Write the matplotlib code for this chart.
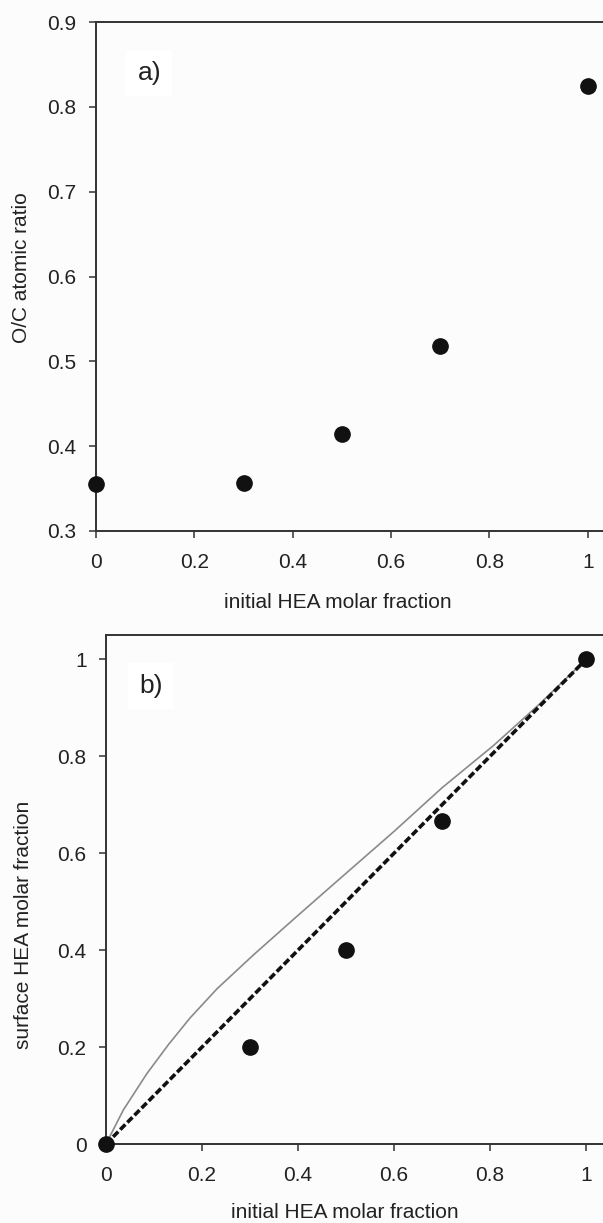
import numpy as np
import matplotlib
matplotlib.use("Agg")
import matplotlib.pyplot as plt

plt.rcParams['font.family'] = ['Liberation Sans', 'DejaVu Sans']

# panel a) O/C ratio vs initial HEA fraction
hea_init = [0, 0.3, 0.5, 0.7, 1.0]
oc_ratio = [0.355, 0.357, 0.414, 0.518, 0.825]

# panel b) surface vs initial HEA fraction
surf_hea = [0, 0.2, 0.4, 0.667, 1.0]
ideal_x = [0, 1]
ideal_y = [0, 1]
curve_x = [0, 0.036, 0.085, 0.13, 0.175, 0.231, 0.307, 0.39, 0.467, 0.6, 0.7, 0.807, 0.9, 1.0]
curve_y = [0, 0.07, 0.145, 0.205, 0.26, 0.32, 0.39, 0.463, 0.53, 0.645, 0.735, 0.822, 0.905, 1.0]

W, H = 603, 1223
fig = plt.figure(figsize=(W / 100, H / 100), dpi=100)
fig.patch.set_facecolor('#fcfcfc')

txt = '#222222'
spc = '#333333'

def box(l, t, r, b):
    return [l / W, 1 - b / H, (r - l) / W, (b - t) / H]

def style(ax):
    ax.set_facecolor('#fcfcfc')
    ax.spines['right'].set_visible(False)
    for s in ['left', 'bottom', 'top']:
        ax.spines[s].set_color(spc)
        ax.spines[s].set_linewidth(1.4)
    ax.tick_params(direction='out', length=5, width=1.1, color=spc,
                   labelsize=15, labelcolor=txt)
    ax.tick_params(axis='x', pad=11)
    ax.tick_params(axis='y', pad=9)

ax1 = fig.add_axes(box(96, 22, 603, 531))
style(ax1)
ax1.plot(hea_init, oc_ratio, 'o', color='#111111', ms=11, clip_on=False, zorder=5)
ax1.set_xlim(0, 1.031)
ax1.set_ylim(0.3, 0.9)
ax1.set_xticks([0, 0.2, 0.4, 0.6, 0.8, 1])
ax1.set_xticklabels(['0', '0.2', '0.4', '0.6', '0.8', '1'])
ax1.set_yticks([0.3, 0.4, 0.5, 0.6, 0.7, 0.8, 0.9])
ax1.text(0.105, 0.9, 'a)', transform=ax1.transAxes, fontsize=19, color=txt,
         ha='center', va='center',
         bbox=dict(facecolor='white', edgecolor='none', pad=8))

ax2 = fig.add_axes(box(106, 635, 603, 1144))
style(ax2)
ax2.plot(curve_x, curve_y, '-', color='#8a8a8a', lw=1.2, zorder=3)
ax2.plot(ideal_x, ideal_y, '--', color='#111111', lw=2.6, dashes=(2.0, 0.8), zorder=4)
ax2.plot(hea_init, surf_hea, 'o', color='#111111', ms=11, clip_on=False, zorder=5)
ax2.set_xlim(0, 1.035)
ax2.set_ylim(0, 1.05)
ax2.set_xticks([0, 0.2, 0.4, 0.6, 0.8, 1])
ax2.set_xticklabels(['0', '0.2', '0.4', '0.6', '0.8', '1'])
ax2.set_yticks([0, 0.2, 0.4, 0.6, 0.8, 1])
ax2.set_yticklabels(['0', '0.2', '0.4', '0.6', '0.8', '1'])
ax2.text(0.09, 0.9, 'b)', transform=ax2.transAxes, fontsize=19, color=txt,
         ha='center', va='center',
         bbox=dict(facecolor='white', edgecolor='none', pad=8))

fig.text(338 / W, 1 - 602 / H, 'initial HEA molar fraction', fontsize=15,
         color=txt, ha='center', va='center')
fig.text(22 / W, 1 - 268 / H, 'O/C atomic ratio', fontsize=15, color=txt,
         ha='center', va='center', rotation=90)
fig.text(345 / W, 1 - 1212 / H, 'initial HEA molar fraction', fontsize=15,
         color=txt, ha='center', va='center')
fig.text(24 / W, 1 - 925 / H, 'surface HEA molar fraction', fontsize=15,
         color=txt, ha='center', va='center', rotation=90)

fig.savefig('out.png', dpi=100, facecolor=fig.get_facecolor())
